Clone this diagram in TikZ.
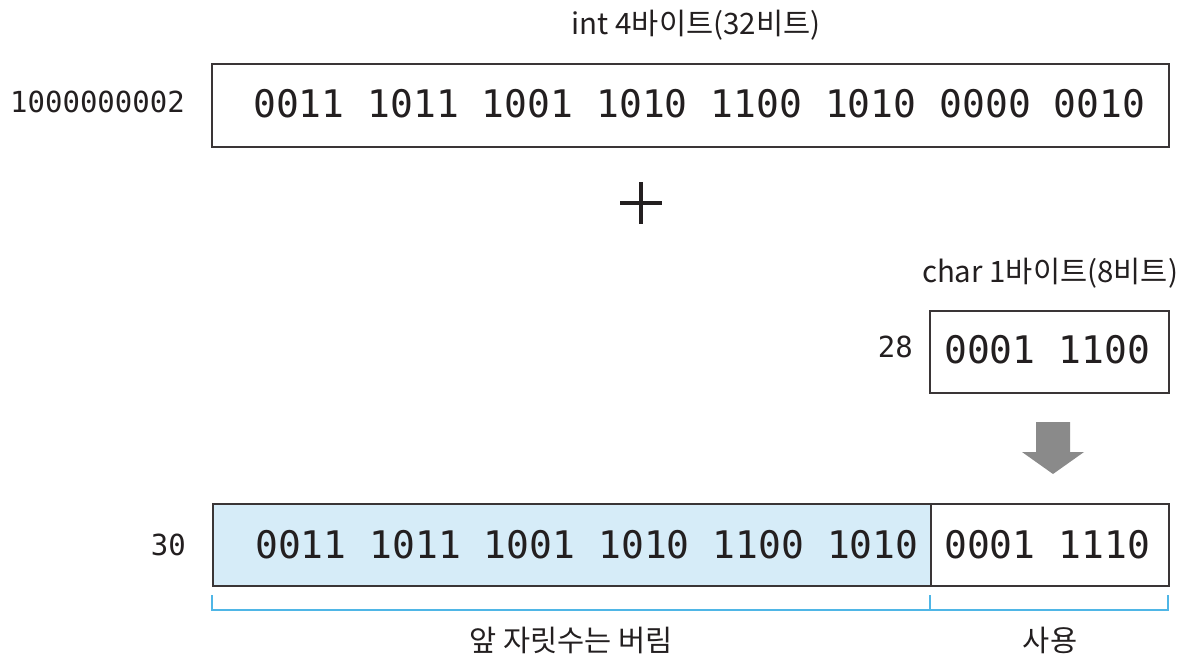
\documentclass[tikz,border=0pt]{standalone}
\usepackage{fontspec}
\setmonofont{DejaVu Sans Mono}
\newfontfamily\kr{Noto Sans CJK KR}
\usetikzlibrary{positioning}
\definecolor{ink}{HTML}{231F20}
\definecolor{boxline}{HTML}{3A3536}
\definecolor{lightblue}{HTML}{D6ECF8}
\definecolor{bracketblue}{HTML}{4FB6E6}
\definecolor{arrowgray}{HTML}{8A8A8A}
\tikzset{
  membox/.style={draw=boxline, line width=1.8pt, inner sep=0pt, anchor=north west},
  bits/.style={font=\ttfamily\fontsize{38}{40}\selectfont, text=ink, inner sep=0pt, anchor=west},
  numlabel/.style={font=\ttfamily\fontsize{29}{31}\selectfont, text=ink, inner sep=0pt},
  krlabel/.style={font=\kr\fontsize{29.5}{32}\selectfont, text=ink, inner sep=0pt},
  bracket/.style={draw=bracketblue, line width=1.6pt},
}
\begin{document}
\begin{tikzpicture}[x=1pt,y=-1pt]
\useasboundingbox (0,0) rectangle (1202,667);
% top int box
\node[membox, minimum width=957pt, minimum height=83pt] (intbox) at (211,63) {};
\node[bits] (intbits) at (253,104) {0011 1011 1001 1010 1100 1010 0000 0010};
\node[numlabel, anchor=east] (intval) at (185,102) {1000000002};
\node[krlabel] (inttitle) at (696,25) {int 4바이트(32비트)};
% plus
\coordinate (pl) at (620,203);
\coordinate (pr) at (662,203);
\coordinate (pt) at (641,182);
\coordinate (pb) at (641,224);
\draw[ink, line width=3.8pt] (pl) -- (pr);
\draw[ink, line width=3.8pt] (pt) -- (pb);
% char box
\node[membox, minimum width=239pt, minimum height=82pt] (charbox) at (929,310) {};
\node[bits] (charbits) at (944,350) {0001 1100};
\node[numlabel, anchor=east] (charval) at (913,347) {28};
\node[krlabel] (chartitle) at (1050,273) {char 1바이트(8비트)};
% gray arrow
\fill[arrowgray] (1036,422) -- (1070,422) -- (1070,452) -- (1084,452) -- (1053,474) -- (1022,452) -- (1036,452) -- cycle;
% result box
\node[membox, fill=lightblue, minimum width=718pt, minimum height=82pt] (lostbox) at (212,503) {};
\node[membox, fill=white, minimum width=238pt, minimum height=82pt] (keptbox) at (930,503) {};
\node[bits] (lostbits) at (255,545) {0011 1011 1001 1010 1100 1010};
\node[bits] (keptbits) at (944,545) {0001 1110};
\node[numlabel, anchor=east] (resval) at (186,545) {30};
% brackets
\coordinate (b1) at (212,595);
\coordinate (b2) at (930,595);
\coordinate (b3) at (1168,595);
\draw[bracket] (b1) -- ++(0,15) -| (b2);
\draw[bracket] (b2) -- ++(0,15) -| (b3);
\node[krlabel] (lostlabel) at (571,640) {앞 자릿수는 버림};
\node[krlabel] (keptlabel) at (1050,640) {사용};
\end{tikzpicture}
\end{document}
